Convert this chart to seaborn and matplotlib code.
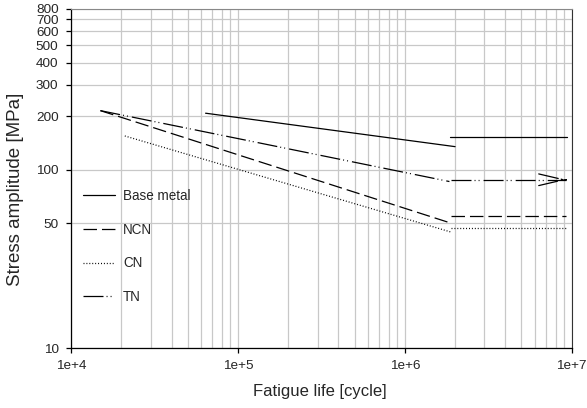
import matplotlib
matplotlib.use("Agg")
import matplotlib.pyplot as plt
import seaborn as sns
import pandas as pd
from matplotlib.ticker import FixedLocator, NullFormatter, LogLocator

# S-N curves (sloped part + endurance plateau)
series = ['Base metal', 'NCN', 'CN', 'TN']
slope_N = {'Base metal': [6.4e4, 2.0e6], 'NCN': [1.5e4, 1.92e6],
           'CN': [2.1e4, 1.9e6], 'TN': [1.5e4, 1.85e6]}
slope_S = {'Base metal': [208, 135], 'NCN': [215, 50],
           'CN': [155, 44.7], 'TN': [215, 86]}
plateau_N = {'Base metal': [1.86e6, 9.4e6], 'NCN': [1.88e6, 9.3e6],
             'CN': [1.9e6, 9.4e6], 'TN': [1.9e6, 9.3e6]}
plateau_S = {'Base metal': [153, 153], 'NCN': [55.4, 55.4],
             'CN': [47.4, 47.4], 'TN': [88, 88]}

y_ticks = [10, 50, 100, 200, 300, 400, 500, 600, 700, 800]
x_ticks = [1e4, 1e5, 1e6, 1e7]
x_labels = ['1e+4', '1e+5', '1e+6', '1e+7']

styles = {'Base metal': '-',
          'NCN': (0, (9.7, 3.6)),
          'CN': (0, (0.7, 1.4)),
          'TN': (0, (14.4, 2.2, 0.7, 2.2, 0.7, 2.9))}

sns.set_style('white')
plt.rcParams['font.family'] = ['Liberation Sans', 'DejaVu Sans']
plt.rcParams['lines.scale_dashes'] = False

fig = plt.figure(figsize=(5.87, 4.08), dpi=100)
ax = fig.add_axes([0.121, 0.147, 0.853, 0.831])

for name in series:
    d1 = pd.DataFrame({'N': slope_N[name], 'S': slope_S[name]})
    d2 = pd.DataFrame({'N': plateau_N[name], 'S': plateau_S[name]})
    sns.lineplot(data=d1, x='N', y='S', ax=ax, color='black', lw=0.9,
                 linestyle=styles[name], label=name, estimator=None, sort=False)
    sns.lineplot(data=d2, x='N', y='S', ax=ax, color='black', lw=0.9,
                 linestyle=styles[name], estimator=None, sort=False, legend=False)

# run-out arrow at the end of TN plateau
tn_end = (plateau_N['TN'][1], plateau_S['TN'][1])
ax.annotate('', xy=tn_end, xytext=(tn_end[0] * 0.999, tn_end[1]),
            arrowprops=dict(arrowstyle='->,head_length=1.8,head_width=0.42',
                            color='black', lw=0.9, linestyle=styles['TN'],
                            shrinkA=0, shrinkB=0))

ax.set_xscale('log')
ax.set_yscale('log')
ax.set_xlim(1e4, 1e7)
ax.set_ylim(10, 800)

ax.yaxis.set_major_locator(FixedLocator(y_ticks))
ax.yaxis.set_minor_locator(FixedLocator([]))
ax.set_yticklabels([str(v) for v in y_ticks])
ax.xaxis.set_major_locator(FixedLocator(x_ticks))
ax.set_xticklabels(x_labels)
ax.xaxis.set_minor_locator(LogLocator(base=10, subs=range(2, 10)))
ax.xaxis.set_minor_formatter(NullFormatter())

ax.grid(True, which='major', color='#c8c8c8', lw=0.9)
ax.grid(True, which='minor', axis='x', color='#c8c8c8', lw=0.9)
ax.set_axisbelow(True)

ax.tick_params(axis='both', which='major', direction='out', length=3.5, width=0.9,
               color='black', labelsize=9.7, left=True, bottom=True)
ax.tick_params(axis='y', which='major', pad=5.5)
ax.tick_params(axis='x', which='major', pad=5)
ax.tick_params(axis='x', which='minor', length=0)

for side in ['left', 'bottom']:
    ax.spines[side].set_color('black')
    ax.spines[side].set_linewidth(0.9)
ax.spines['top'].set_color('#888888')
ax.spines['right'].set_color('#333333')

ax.set_xlabel('Fatigue life [cycle]', fontsize=12)
ax.set_ylabel('Stress amplitude [MPa]', fontsize=13.5)
ax.xaxis.set_label_coords(0.497, -0.105)
ax.yaxis.set_label_coords(-0.094, 0.469)

ax.legend(frameon=False, loc='upper left', bbox_to_anchor=(0.024, 0.469),
          borderpad=0, borderaxespad=0, handlelength=2.37, handletextpad=0.59,
          labelspacing=1.45, fontsize=9.75)

fig.savefig('out.png', dpi=100)
